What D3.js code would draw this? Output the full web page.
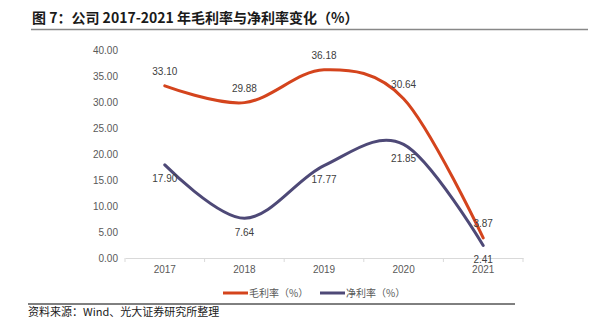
<!DOCTYPE html>
<html>
<head>
<meta charset="utf-8">
<script src="https://cdn.jsdelivr.net/npm/d3@7"></script>
<style>
  body { margin: 0; background: #fff; }
  svg { display: block; }
</style>
</head>
<body>
<div id="chart"></div>
<script>
// data
const years = ['2017', '2018', '2019', '2020', '2021'];
const grossMargin = [33.10, 29.88, 36.18, 30.64, 3.87];
const netMargin = [17.90, 7.64, 17.77, 21.85, 2.41];
const yTicks = [0, 5, 10, 15, 20, 25, 30, 35, 40];
const seriesNames = ['毛利率（%）', '净利率（%）'];
const seriesColors = ['#d4441d', '#4e4977'];

const width = 597, height = 327;
const cjk = '"Noto Sans CJK SC", sans-serif';
const latin = '"Liberation Sans", Arial, sans-serif';

const svg = d3.select('#chart').append('svg')
    .attr('width', width)
    .attr('height', height);

// title + rule
svg.append('text')
    .attr('x', 32).attr('y', 23)
    .style('font-family', cjk)
    .style('font-size', '14px')
    .style('font-weight', 'bold')
    .attr('fill', '#1a1a1a')
    .text('图 7：公司 2017-2021 年毛利率与净利率变化（%）');

svg.append('line')
    .attr('x1', 31).attr('x2', 588)
    .attr('y1', 29.5).attr('y2', 29.5)
    .attr('stroke', '#888').attr('stroke-width', 1.5);

// scales
const x = d3.scaleBand().domain(years).range([125, 523]);
const y = d3.scaleLinear().domain([0, 40]).range([258, 50]);
const cx = d => x(d) + x.bandwidth() / 2;

// y axis labels (no line)
svg.append('g')
    .selectAll('text')
    .data(yTicks)
    .join('text')
    .attr('x', 118)
    .attr('y', d => y(d))
    .attr('dy', '0.35em')
    .attr('text-anchor', 'end')
    .style('font-family', latin)
    .style('font-size', '10px')
    .attr('fill', '#595959')
    .text(d => d.toFixed(2));

// x axis
const xAxis = svg.append('g')
    .attr('transform', `translate(0,258)`)
    .call(d3.axisBottom(x).tickSize(0).tickPadding(8));
xAxis.select('.domain').attr('stroke', '#d9d9d9');
xAxis.selectAll('text')
    .style('font-family', latin)
    .style('font-size', '10px')
    .attr('fill', '#595959');
// tick marks on category boundaries
xAxis.selectAll('.bound')
    .data(years.concat(['end']))
    .join('line')
    .attr('class', 'bound')
    .attr('x1', (d, i) => i < years.length ? x(d) : x(years[years.length - 1]) + x.bandwidth())
    .attr('x2', (d, i) => i < years.length ? x(d) : x(years[years.length - 1]) + x.bandwidth())
    .attr('y1', 0).attr('y2', 4)
    .attr('stroke', '#d9d9d9');

const line = d3.line()
    .x((d, i) => cx(years[i]))
    .y(d => y(d))
    .curve(d3.curveCardinal.tension(0));

[grossMargin, netMargin].forEach((vals, s) => {
    svg.append('path')
        .datum(vals)
        .attr('d', line)
        .attr('fill', 'none')
        .attr('stroke', seriesColors[s])
        .attr('stroke-width', 3)
        .attr('stroke-linecap', 'round');
});

// data labels: gross above, net below
svg.append('g')
    .selectAll('text')
    .data(grossMargin)
    .join('text')
    .attr('x', (d, i) => cx(years[i]))
    .attr('y', d => y(d) - 14)
    .attr('dy', '0.35em')
    .attr('text-anchor', 'middle')
    .style('font-family', latin)
    .style('font-size', '10px')
    .attr('fill', '#404040')
    .text(d => d.toFixed(2));

svg.append('g')
    .selectAll('text')
    .data(netMargin)
    .join('text')
    .attr('x', (d, i) => cx(years[i]))
    .attr('y', d => y(d) + 14)
    .attr('dy', '0.35em')
    .attr('text-anchor', 'middle')
    .style('font-family', latin)
    .style('font-size', '10px')
    .attr('fill', '#404040')
    .text(d => d.toFixed(2));

// legend
const legendX = [223, 320];
const legend = svg.append('g')
    .selectAll('g')
    .data(seriesNames)
    .join('g')
    .attr('transform', (d, i) => `translate(${legendX[i]},293)`);
legend.append('line')
    .attr('x1', 0).attr('x2', 25)
    .attr('stroke', (d, i) => seriesColors[i])
    .attr('stroke-width', 3);
legend.append('text')
    .attr('x', 26)
    .attr('dy', '0.35em')
    .style('font-family', cjk)
    .style('font-size', '10px')
    .attr('fill', '#595959')
    .text(d => d);

// bottom rule + source
svg.append('line')
    .attr('x1', 28).attr('x2', 515)
    .attr('y1', 304).attr('y2', 304)
    .attr('stroke', '#000').attr('stroke-width', 1);

svg.append('text')
    .attr('x', 28).attr('y', 316)
    .style('font-family', cjk)
    .style('font-size', '11px')
    .attr('fill', '#1a1a1a')
    .text('资料来源：Wind、光大证券研究所整理');
</script>
</body>
</html>
